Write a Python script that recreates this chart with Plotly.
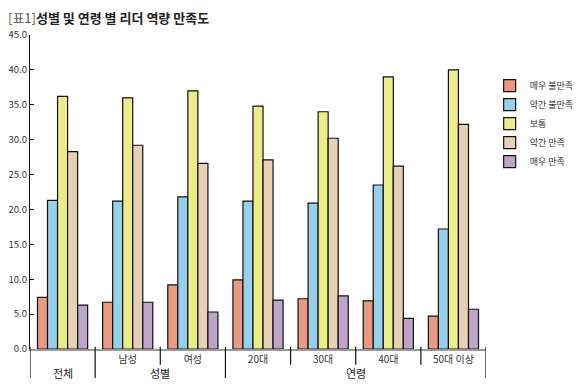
import plotly.graph_objects as go

categories = ["전체", "남성", "여성", "20대", "30대", "40대", "50대 이상"]
tick_labels = ["", "남성", "여성", "20대", "30대", "40대", "50대 이상"]
group_labels = ["전체", "성별", "연령"]
group_first = [0, 1, 3]
group_last = [0, 2, 6]

series_names = ["매우 불만족", "약간 불만족", "보통", "약간 만족", "매우 만족"]
very_dissatisfied = [7.4, 6.7, 9.2, 9.9, 7.2, 6.9, 4.7]
somewhat_dissatisfied = [21.3, 21.2, 21.8, 21.2, 20.9, 23.5, 17.2]
neutral = [36.2, 36.0, 37.0, 34.8, 34.0, 39.0, 40.0]
somewhat_satisfied = [28.3, 29.2, 26.6, 27.1, 30.2, 26.2, 32.2]
very_satisfied = [6.3, 6.7, 5.3, 7.0, 7.6, 4.4, 5.7]
series_values = [very_dissatisfied, somewhat_dissatisfied, neutral,
                 somewhat_satisfied, very_satisfied]
colors = ["#E89B82", "#96D0EB", "#ECEC88", "#E6D0B6", "#BEA4C8"]

FONT = "Liberation Sans Narrow, Noto Sans CJK KR, sans-serif"
KFONT = "Noto Sans CJK KR, sans-serif"

fig = go.Figure()
for name, vals, c in zip(series_names, series_values, colors):
    fig.add_trace(go.Bar(
        x=categories, y=vals, name=name,
        marker=dict(color=c, line=dict(color="#111", width=1.2)),
    ))

shapes = []
tall = sorted(set([f - 0.5 for f in group_first] + [group_last[-1] + 0.5]))
for xv in tall:
    shapes.append(dict(type="line", xref="x", yref="paper", x0=xv, x1=xv,
                       y0=0.007, y1=-0.092, line=dict(color="#111", width=1.2)))
for f, l in zip(group_first, group_last):
    for i in range(f, l):
        xv = i + 0.5
        shapes.append(dict(type="line", xref="x", yref="paper", x0=xv, x1=xv,
                           y0=0.007, y1=-0.05, line=dict(color="#111", width=1.2)))

annotations = []
for g, f, l in zip(group_labels, group_first, group_last):
    annotations.append(dict(x=(f + l) / 2, y=-0.076, xref="x", yref="paper",
                            text=g, showarrow=False, yanchor="middle",
                            font=dict(family=KFONT, size=11, color="#222")))

fig.update_layout(
    width=584, height=391,
    margin=dict(l=22, r=106, t=27, b=50),
    paper_bgcolor="white", plot_bgcolor="white",
    barmode="group", bargap=0.23, bargroupgap=0,
    font=dict(family=FONT, size=10, color="#333"),
    title=dict(
        text="<span style='font-weight:normal;color:#555'>[표1]</span><b>성별 및 연령 별 리더 역량 만족도</b>",
        x=0.0, xanchor="left", xref="container",
        y=0.973, yanchor="middle", yref="container",
        font=dict(family=KFONT, size=13, color="#222"),
    ),
    xaxis=dict(
        type="category", tickmode="array", tickvals=categories, ticktext=tick_labels,
        showline=True, linecolor="#999", linewidth=1.5, ticks="",
        showgrid=False, zeroline=False, automargin=False,
        tickfont=dict(family=FONT, size=10, color="#333"),
        range=[-0.5, 6.5],
    ),
    yaxis=dict(
        range=[0, 45], tickmode="linear", tick0=0, dtick=5, tickformat=".1f",
        showline=True, linecolor="#111", linewidth=1.2,
        ticks="inside", ticklen=4, tickcolor="#111",
        showgrid=False, zeroline=False, automargin=False,
        tickfont=dict(family=FONT, size=9.5, color="#333"),
    ),
    legend=dict(
        x=1.008, xanchor="left", y=0.885, yanchor="top",
        font=dict(family=KFONT, size=9, color="#333"),
        itemwidth=30, tracegroupgap=0,
    ),
    shapes=shapes,
    annotations=annotations,
)

fig.write_html("out.html")
